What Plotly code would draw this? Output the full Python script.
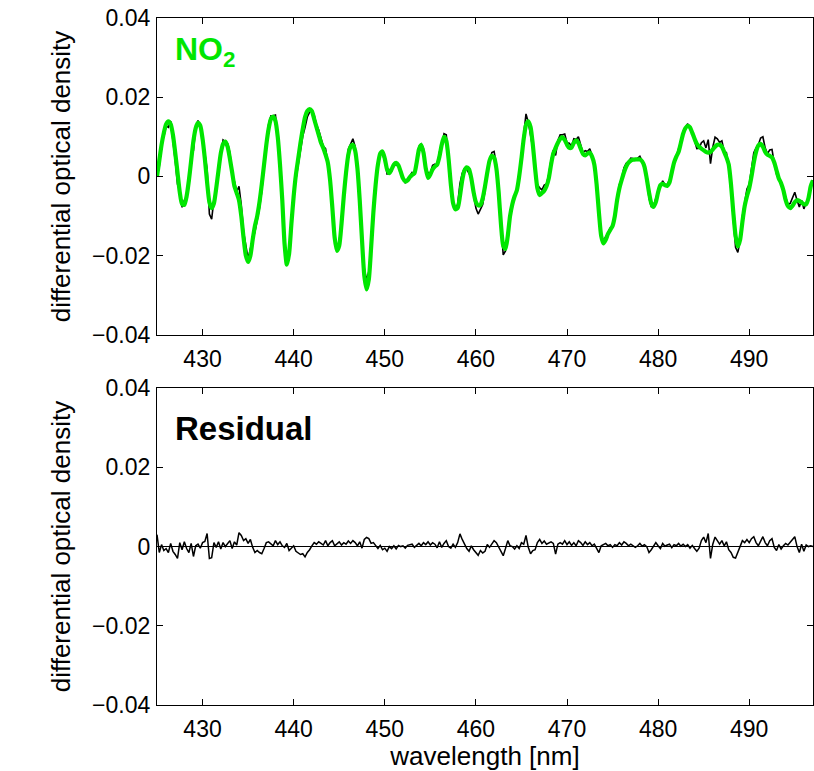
import plotly.graph_objects as go

# ---------------- data ----------------
WL_START = 425.0
WL_STEP = 0.25

# NO2 fitted differential optical density (green), 4 samples per nm, 425.00 .. 497.00
fit_no2 = [
    0.0000, 0.0040, 0.0080, 0.0110,   # 425
    0.0132, 0.0139, 0.0132, 0.0105,   # 426
    0.0060, 0.0010, -0.0040, -0.0070,  # 427
    -0.0072, -0.0050, -0.0010, 0.0040,  # 428
    0.0090, 0.0122, 0.0135, 0.0128,   # 429
    0.0095, 0.0045, -0.0015, -0.0065,  # 430
    -0.0080, -0.0068, -0.0030, 0.0015,  # 431
    0.0058, 0.0082, 0.0088, 0.0075,   # 432
    0.0045, 0.0010, -0.0025, -0.0042,  # 433
    -0.0060, -0.0100, -0.0155, -0.0200,  # 434
    -0.0216, -0.0200, -0.0160, -0.0125,  # 435
    -0.0100, -0.0065, -0.0020, 0.0030,  # 436
    0.0080, 0.0120, 0.0145, 0.0151,   # 437
    0.0140, 0.0100, 0.0030, -0.0060,  # 438
    -0.0170, -0.0223, -0.0195, -0.0120,  # 439
    -0.0050, 0.0005, 0.0045, 0.0085,  # 440
    0.0120, 0.0150, 0.0165, 0.0170,   # 441
    0.0165, 0.0145, 0.0125, 0.0105,   # 442
    0.0085, 0.0072, 0.0055, 0.0035,   # 443
    -0.0010, -0.0080, -0.0155, -0.0188,  # 444
    -0.0175, -0.0120, -0.0050, 0.0010,  # 445
    0.0055, 0.0075, 0.0080, 0.0065,   # 446
    0.0020, -0.0060, -0.0160, -0.0250,  # 447
    -0.0285, -0.0260, -0.0180, -0.0090,  # 448
    -0.0020, 0.0030, 0.0058, 0.0063,  # 449
    0.0045, 0.0018, 0.0008, 0.0018,   # 450
    0.0030, 0.0034, 0.0028, 0.0012,   # 451
    -0.0005, -0.0013, -0.0010, -0.0002,  # 452
    0.0004, 0.0008, 0.0035, 0.0068,   # 453
    0.0080, 0.0060, 0.0020, -0.0004,  # 454
    0.0005, 0.0018, 0.0025, 0.0030,   # 455
    0.0050, 0.0080, 0.0100, 0.0090,   # 456
    0.0045, -0.0020, -0.0068, -0.0083,  # 457
    -0.0080, -0.0050, -0.0010, 0.0015,  # 458
    0.0023, 0.0018, -0.0005, -0.0040,  # 459
    -0.0065, -0.0073, -0.0072, -0.0055,  # 460
    -0.0025, 0.0010, 0.0040, 0.0052,  # 461
    0.0048, 0.0020, -0.0040, -0.0120,  # 462
    -0.0175, -0.0183, -0.0150, -0.0100,  # 463
    -0.0070, -0.0050, -0.0035, 0.0000,  # 464
    0.0045, 0.0095, 0.0130, 0.0139,   # 465
    0.0125, 0.0080, 0.0020, -0.0030,  # 466
    -0.0047, -0.0042, -0.0036, -0.0025,  # 467
    -0.0005, 0.0030, 0.0058, 0.0072,  # 468
    0.0085, 0.0095, 0.0099, 0.0092,   # 469
    0.0080, 0.0072, 0.0073, 0.0085,   # 470
    0.0091, 0.0085, 0.0070, 0.0057,   # 471
    0.0053, 0.0058, 0.0060, 0.0050,   # 472
    0.0030, -0.0020, -0.0090, -0.0150,  # 473
    -0.0169, -0.0160, -0.0145, -0.0135,  # 474
    -0.0125, -0.0100, -0.0060, -0.0030,  # 475
    -0.0009, 0.0010, 0.0025, 0.0035,  # 476
    0.0040, 0.0042, 0.0043, 0.0043,   # 477
    0.0043, 0.0038, 0.0025, -0.0005,  # 478
    -0.0040, -0.0068, -0.0077, -0.0065,  # 479
    -0.0040, -0.0022, -0.0019, -0.0022,  # 480
    -0.0024, -0.0015, 0.0010, 0.0035,  # 481
    0.0050, 0.0062, 0.0085, 0.0108,   # 482
    0.0122, 0.0128, 0.0124, 0.0110,   # 483
    0.0095, 0.0082, 0.0075, 0.0070,   # 484
    0.0066, 0.0062, 0.0060, 0.0062,   # 485
    0.0068, 0.0075, 0.0080, 0.0080,   # 486
    0.0075, 0.0062, 0.0048, 0.0030,   # 487
    -0.0020, -0.0090, -0.0150, -0.0177,  # 488
    -0.0160, -0.0115, -0.0075, -0.0050,  # 489
    -0.0030, 0.0000, 0.0035, 0.0062,  # 490
    0.0078, 0.0082, 0.0075, 0.0062,   # 491
    0.0055, 0.0052, 0.0048, 0.0035,   # 492
    0.0015, -0.0005, -0.0017, -0.0035,  # 493
    -0.0060, -0.0075, -0.0080, -0.0074,  # 494
    -0.0065, -0.0060, -0.0062, -0.0066,  # 495
    -0.0070, -0.0070, -0.0055, -0.0025,  # 496
    -0.0010,                            # 497
]

# fit residual (black, lower panel), same sampling
residual = [
    0.0030, -0.0015, 0.0005, -0.0010,   # 425
    -0.0005, -0.0015, 0.0008, -0.0012,  # 426
    -0.0020, -0.0030, 0.0010, -0.0008,  # 427
    0.0012, -0.0005, -0.0015, 0.0008,   # 428
    -0.0025, 0.0002, 0.0006, -0.0004,   # 429
    0.0010, 0.0013, 0.0033, -0.0030,    # 430
    -0.0028, 0.0010, -0.0002, 0.0012,   # 431
    -0.0006, 0.0010, 0.0000, 0.0008,    # 432
    0.0015, -0.0005, 0.0012, 0.0004,    # 433
    0.0035, 0.0028, 0.0015, 0.0020,     # 434
    0.0008, 0.0018, -0.0002, -0.0015,   # 435
    -0.0010, -0.0015, -0.0018, -0.0005,  # 436
    0.0010, 0.0012, 0.0008, 0.0002,     # 437
    0.0015, 0.0005, 0.0012, 0.0002,     # 438
    -0.0002, 0.0008, -0.0010, -0.0005,  # 439
    0.0002, -0.0012, -0.0015, -0.0020,  # 440
    -0.0018, -0.0026, -0.0015, -0.0008,  # 441
    0.0002, 0.0010, 0.0006, 0.0012,     # 442
    0.0008, 0.0004, 0.0015, 0.0002,     # 443
    0.0010, 0.0015, 0.0002, 0.0006,     # 444
    0.0012, 0.0004, 0.0010, 0.0006,     # 445
    0.0014, 0.0008, 0.0015, 0.0010,     # 446
    0.0002, 0.0012, -0.0004, 0.0018,    # 447
    0.0023, 0.0020, 0.0008, 0.0010,     # 448
    0.0002, -0.0005, 0.0003, -0.0008,   # 449
    -0.0004, -0.0012, 0.0000, -0.0005,  # 450
    0.0002, -0.0006, 0.0003, 0.0000,    # 451
    0.0002, -0.0004, 0.0003, 0.0005,    # 452
    0.0006, -0.0002, 0.0004, 0.0008,    # 453
    0.0002, 0.0010, 0.0005, 0.0012,     # 454
    0.0004, 0.0010, 0.0006, -0.0003,    # 455
    0.0012, -0.0002, 0.0008, 0.0015,    # 456
    0.0000, -0.0004, 0.0006, -0.0002,   # 457
    0.0010, 0.0032, 0.0018, 0.0005,     # 458
    -0.0005, -0.0012, 0.0002, -0.0008,  # 459
    -0.0015, -0.0022, -0.0010, -0.0016,  # 460
    -0.0012, 0.0005, -0.0002, 0.0008,   # 461
    0.0015, 0.0010, 0.0000, -0.0012,    # 462
    -0.0023, -0.0005, 0.0015, 0.0002,   # 463
    0.0000, -0.0006, 0.0002, -0.0005,   # 464
    0.0010, 0.0006, 0.0028, -0.0002,    # 465
    -0.0018, -0.0010, -0.0008, 0.0010,  # 466
    0.0018, 0.0008, 0.0014, 0.0006,     # 467
    0.0010, 0.0012, 0.0008, -0.0019,    # 468
    0.0006, 0.0010, 0.0006, 0.0015,     # 469
    0.0005, 0.0012, 0.0003, 0.0010,     # 470
    0.0002, 0.0015, 0.0010, 0.0003,     # 471
    0.0012, 0.0005, 0.0010, 0.0002,     # 472
    0.0006, -0.0005, -0.0015, 0.0002,   # 473
    0.0006, 0.0008, 0.0002, 0.0005,     # 474
    -0.0002, 0.0005, 0.0002, 0.0010,    # 475
    0.0004, 0.0012, 0.0008, 0.0002,     # 476
    0.0006, 0.0003, -0.0002, 0.0002,    # 477
    0.0008, 0.0001, 0.0005, 0.0000,     # 478
    -0.0015, -0.0008, 0.0002, 0.0010,   # 479
    0.0002, -0.0005, 0.0008, 0.0001,    # 480
    0.0004, 0.0006, -0.0003, 0.0005,    # 481
    0.0002, 0.0008, 0.0001, 0.0006,     # 482
    0.0000, 0.0005, -0.0004, 0.0003,    # 483
    -0.0005, -0.0012, -0.0004, 0.0015,  # 484
    0.0024, 0.0010, 0.0033, -0.0030,    # 485
    0.0006, 0.0024, 0.0015, 0.0006,     # 486
    0.0015, 0.0002, 0.0012, -0.0008,    # 487
    -0.0015, -0.0027, -0.0029, -0.0015,  # 488
    -0.0002, 0.0015, 0.0010, 0.0018,    # 489
    0.0010, 0.0020, 0.0025, 0.0010,     # 490
    0.0002, 0.0015, 0.0025, 0.0010,     # 491
    0.0002, 0.0015, 0.0020, -0.0002,    # 492
    -0.0010, 0.0005, -0.0006, 0.0002,   # 493
    0.0008, 0.0004, 0.0012, 0.0018,     # 494
    0.0025, 0.0000, -0.0015, 0.0006,    # 495
    -0.0012, 0.0004, 0.0000, 0.0002,    # 496
    0.0000,                             # 497
]

x_ticks = [430, 440, 450, 460, 470, 480, 490]
y_ticks = [-0.04, -0.02, 0, 0.02, 0.04]
y_tick_labels = ["\u22120.04", "\u22120.02", "0", "0.02", "0.04"]

assert len(fit_no2) == len(residual)
wavelength = [WL_START + WL_STEP * i for i in range(len(fit_no2))]
# measured spectrum = fitted NO2 + residual
measured = [f + r for f, r in zip(fit_no2, residual)]

# ---------------- figure ----------------
GREEN = "#00e600"
FONT = "Liberation Sans, Arial, Helvetica, sans-serif"

fig = go.Figure()
fig.add_trace(go.Scatter(x=wavelength, y=measured, mode="lines",
                         line=dict(color="black", width=1.6),
                         xaxis="x", yaxis="y", showlegend=False))
fig.add_trace(go.Scatter(x=wavelength, y=fit_no2, mode="lines",
                         line=dict(color=GREEN, width=4.2, shape="spline", smoothing=0.6),
                         xaxis="x", yaxis="y", showlegend=False))
fig.add_trace(go.Scatter(x=wavelength, y=residual, mode="lines",
                         line=dict(color="black", width=1.5),
                         xaxis="x2", yaxis="y2", showlegend=False))

axis_common = dict(showline=True, linecolor="black", linewidth=1.2, mirror="ticks",
                   ticks="inside", ticklen=6, tickwidth=1.2, tickcolor="black",
                   showgrid=False, automargin=False,
                   tickfont=dict(size=23, color="black", family=FONT))

TITLE_FONT = dict(size=26, family=FONT, color="black")

fig.update_layout(
    width=814, height=771,
    margin=dict(l=157, r=1, t=18, b=66),
    paper_bgcolor="white", plot_bgcolor="white",
    font=dict(family=FONT, color="black"),
    xaxis=dict(domain=[0, 1], anchor="y", range=[425, 497], tickvals=x_ticks,
               zeroline=False, ticklabelstandoff=3, **axis_common),
    yaxis=dict(domain=[0.5388, 1], anchor="x", range=[-0.04, 0.04],
               tickvals=y_ticks, ticktext=y_tick_labels, zeroline=False,
               ticklabelstandoff=1,
               title=dict(text="differential optical density", font=TITLE_FONT, standoff=13),
               **axis_common),
    xaxis2=dict(domain=[0, 1], anchor="y2", range=[425, 497], tickvals=x_ticks,
                zeroline=False, ticklabelstandoff=3,
                title=dict(text="wavelength [nm]", font=TITLE_FONT, standoff=10),
                **axis_common),
    yaxis2=dict(domain=[0, 0.4612], anchor="x2", range=[-0.04, 0.04],
                tickvals=y_ticks, ticktext=y_tick_labels,
                zeroline=True, zerolinecolor="black", zerolinewidth=1.2,
                ticklabelstandoff=1,
                title=dict(text="differential optical density", font=TITLE_FONT, standoff=13),
                **axis_common),
    annotations=[
        dict(text="<b>NO<sub>2</sub></b>", xref="x domain", yref="y domain",
             x=0.025, y=0.895, xanchor="left", yanchor="middle", showarrow=False,
             font=dict(size=32, color=GREEN, family=FONT)),
        dict(text="<b>Residual</b>", xref="x2 domain", yref="y2 domain",
             x=0.025, y=0.873, xanchor="left", yanchor="middle", showarrow=False,
             font=dict(size=33, color="black", family=FONT)),
    ],
)

fig.write_html(
    "out.html",
    config={"displayModeBar": False},
    post_script="document.body.style.margin='0px';document.body.style.overflow='hidden';",
)
